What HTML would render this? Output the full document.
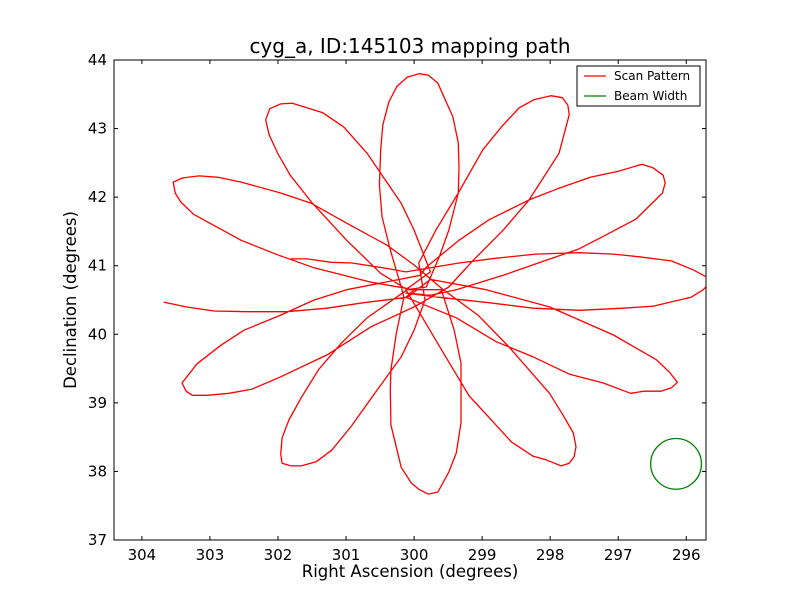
<!DOCTYPE html>
<html><head><meta charset="utf-8"><style>
body{margin:0;background:#fff;}
svg{font-family:"DejaVu Sans","Liberation Sans",sans-serif;}
</style></head><body>
<svg id="chart" width="800" height="600" viewBox="0 0 800 600">
<rect x="0" y="0" width="800" height="600" fill="#fff"/>
<defs><clipPath id="clip"><rect x="114" y="60" width="592" height="480"/></clipPath></defs>
<g id="plot" clip-path="url(#clip)"></g>
<g id="axes"></g>
<text x="410" y="53" text-anchor="middle" font-size="20">cyg_a, ID:145103 mapping path</text>
<text x="410" y="577" text-anchor="middle" font-size="16.5">Right Ascension (degrees)</text>
<text x="76" y="300" text-anchor="middle" font-size="16.5" transform="rotate(-90 76 300)">Declination (degrees)</text>
<g>
<rect x="577" y="66" width="123" height="40" fill="#fff" stroke="#000" stroke-width="1"/>
<line x1="584" y1="76" x2="606" y2="76" stroke="red" stroke-width="1.2"/>
<text x="614" y="80" font-size="12">Scan Pattern</text>
<line x1="584" y1="96" x2="606" y2="96" stroke="green" stroke-width="1.2"/>
<text x="614" y="100" font-size="12">Beam Width</text>
</g>
</svg>
<script>
const xTicks=[304,303,302,301,300,299,298,297,296];
const yTicks=[37,38,39,40,41,42,43,44];
const raS=[303.68,303.35,302.94,302.46,301.87,301.28,300.74,300.10];
const decS=[40.47,40.40,40.34,40.33,40.33,40.38,40.46,40.54];
const raLR=[299.76,298.94,298.01,297.07,296.44,296.25,296.13,296.22,296.37,296.62,296.82,297.22,297.72,298.25,298.79,299.38,300.12];
const decLR=[40.80,40.65,40.40,39.99,39.63,39.45,39.30,39.22,39.17,39.17,39.14,39.29,39.42,39.67,39.89,40.24,40.54];
const raL=[300.00,300.63,301.47,302.01,302.54,303.24,303.43,303.51,303.54,303.40,303.16,302.88,302.54,301.96,301.51,300.99,300.40,300.00];
const decL=[40.65,40.76,40.97,41.16,41.37,41.75,41.93,42.06,42.22,42.28,42.31,42.29,42.22,42.06,41.91,41.62,41.30,41.01];
const raBR=[299.57,299.06,298.60,298.01,297.81,297.66,297.62,297.65,297.72,297.84,298.06,298.25,298.57,298.90,299.19,299.57,300.12];
const decBR=[40.65,40.28,39.81,39.14,38.82,38.56,38.36,38.21,38.12,38.08,38.17,38.22,38.43,38.79,39.10,39.73,40.65];
const raUL=[299.76,300.00,300.19,300.69,301.03,301.34,301.79,301.96,302.12,302.18,302.13,302.00,301.82,301.51,300.99,300.49,300.10];
const decUL=[40.91,41.52,41.91,42.64,43.02,43.23,43.37,43.36,43.29,43.13,42.91,42.63,42.32,41.93,41.37,40.89,40.65];
const raB=[299.60,299.41,299.31,299.31,299.38,299.49,299.65,299.79,299.93,300.04,300.19,300.34,300.35,300.34,300.26,300.15];
const decB=[40.65,40.06,39.58,38.71,38.27,37.99,37.70,37.67,37.74,37.83,38.06,38.68,39.19,39.48,40.02,40.54];
const raT=[300.19,300.35,300.47,300.51,300.49,300.46,300.37,300.25,300.10,300.00,299.93,299.79,299.65,299.43,299.35,299.34,299.35,299.49,299.63,299.82];
const decT=[40.69,41.23,41.71,42.18,42.69,43.05,43.39,43.62,43.75,43.78,43.80,43.78,43.66,43.17,42.79,42.44,42.06,41.52,41.13,40.69];
const raBL=[300.10,300.69,301.07,301.40,301.65,301.84,301.94,301.96,301.94,301.81,301.66,301.44,301.21,300.93,300.54,300.19,300.00,299.84];
const decBL=[40.65,40.24,39.87,39.49,39.09,38.75,38.49,38.25,38.12,38.08,38.08,38.14,38.31,38.65,39.19,39.67,40.06,40.50];
const raTR=[299.93,299.68,299.35,298.99,298.72,298.46,298.24,297.99,297.82,297.74,297.72,297.87,298.31,298.69,299.13,299.49];
const decTR=[41.04,41.52,42.06,42.69,43.02,43.30,43.42,43.48,43.45,43.34,43.20,42.64,41.96,41.52,41.08,40.69];
const raLL=[300.00,300.63,301.28,301.96,302.38,302.72,303.04,303.26,303.35,303.41,303.19,302.84,302.50,301.96,301.47,300.99,299.91];
const decLL=[40.40,40.11,39.70,39.38,39.20,39.14,39.11,39.11,39.17,39.29,39.57,39.84,40.06,40.28,40.50,40.65,40.86];
const raUR=[299.82,299.34,298.90,298.31,297.87,297.41,296.99,296.65,296.49,296.34,296.31,296.35,296.74,297.18,297.59,298.06,298.69,299.38,299.76];
const decUR=[40.98,41.37,41.67,41.96,42.13,42.29,42.38,42.48,42.43,42.32,42.21,42.06,41.68,41.45,41.24,41.08,40.86,40.65,40.57];
const raR=[300.12,299.63,298.90,298.25,297.57,296.93,296.49,296.15,295.93,295.75,295.62,295.71,295.90,296.22,296.69,297.07,297.57,298.21,298.79,299.34,300.12,300.34,300.91,301.22,301.57,301.81];
const decR=[40.60,40.54,40.46,40.38,40.35,40.38,40.41,40.49,40.54,40.65,40.79,40.84,40.94,41.07,41.13,41.17,41.19,41.17,41.11,41.04,40.91,40.95,41.04,41.05,41.10,41.10];
const beamRa=[296.15];
const beamDec=[38.11];
const beamRadius=[0.37];

const X0=114,X1=706,Y0=60,Y1=540;
const raMax=304.41,raMin=295.71,decMin=37,decMax=44;
function xs(v){return X0+(raMax-v)/(raMax-raMin)*(X1-X0);}
function ys(v){return Y1-(v-decMin)/(decMax-decMin)*(Y1-Y0);}
const NS='http://www.w3.org/2000/svg';
const plot=document.getElementById('plot');
const axes=document.getElementById('axes');

const raAll=[].concat(raS,raLR,raL,raBR,raUL,raB,raT,raBL,raTR,raLL,raUR,raR);
const decAll=[].concat(decS,decLR,decL,decBR,decUL,decB,decT,decBL,decTR,decLL,decUR,decR);
let d='';
for(let i=0;i<raAll.length;i++){d+=(i?'L':'M')+xs(raAll[i]).toFixed(1)+','+ys(decAll[i]).toFixed(1);}
const path=document.createElementNS(NS,'path');
path.setAttribute('d',d);path.setAttribute('fill','none');path.setAttribute('stroke','red');path.setAttribute('stroke-width','1.3');path.setAttribute('stroke-linejoin','round');


plot.appendChild(path);

const c=document.createElementNS(NS,'circle');
c.setAttribute('cx',xs(beamRa[0]));c.setAttribute('cy',ys(beamDec[0]));
c.setAttribute('r',beamRadius[0]*(Y1-Y0)/(decMax-decMin));
c.setAttribute('fill','none');c.setAttribute('stroke','green');c.setAttribute('stroke-width','1.3');


plot.appendChild(c);

const frame=document.createElementNS(NS,'rect');
frame.setAttribute('x',X0);frame.setAttribute('y',Y0);frame.setAttribute('width',X1-X0);frame.setAttribute('height',Y1-Y0);
frame.setAttribute('fill','none');frame.setAttribute('stroke','#000');frame.setAttribute('stroke-width','1');


axes.appendChild(frame);

xTicks.forEach(v=>{
  const x=xs(v);
  [[Y1,Y1-4],[Y0,Y0+4]].forEach(p=>{
    const l=document.createElementNS(NS,'line');
    l.setAttribute('x1',x);l.setAttribute('x2',x);l.setAttribute('y1',p[0]);l.setAttribute('y2',p[1]);l.setAttribute('stroke','#000');
    
    
    axes.appendChild(l);
  });
  const t=document.createElementNS(NS,'text');
  t.setAttribute('x',x);t.setAttribute('y',Y1+20);t.setAttribute('text-anchor','middle');t.setAttribute('font-size','15');
  t.textContent=v;
  
  
  axes.appendChild(t);
});
yTicks.forEach(v=>{
  const y=ys(v);
  [[X0,X0+4],[X1,X1-4]].forEach(p=>{
    const l=document.createElementNS(NS,'line');
    l.setAttribute('y1',y);l.setAttribute('y2',y);l.setAttribute('x1',p[0]);l.setAttribute('x2',p[1]);l.setAttribute('stroke','#000');
    
    
    axes.appendChild(l);
  });
  const t=document.createElementNS(NS,'text');
  t.setAttribute('x',X0-7);t.setAttribute('y',y+5);t.setAttribute('text-anchor','end');t.setAttribute('font-size','15');
  t.textContent=v;
  
  
  axes.appendChild(t);
});
</script>
</body></html>
